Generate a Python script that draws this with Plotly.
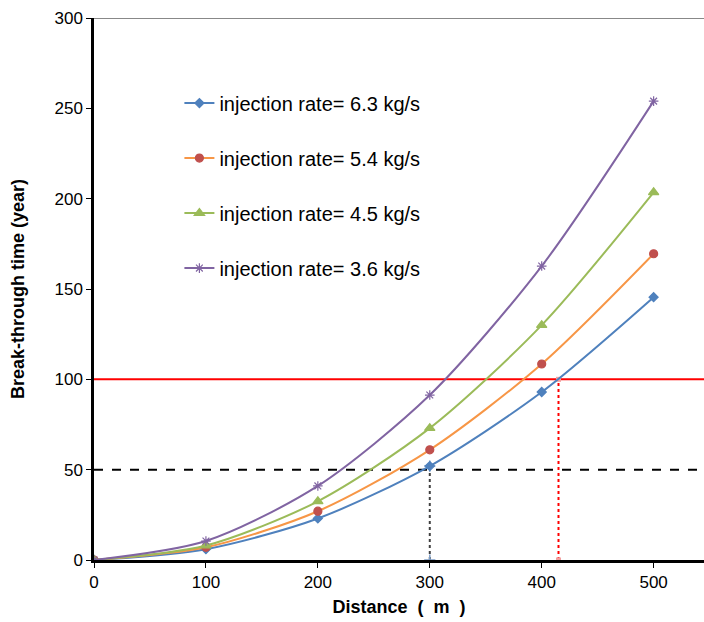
import plotly.graph_objects as go

distance = [0, 100, 200, 300, 400, 500]
labels = ["injection rate= 6.3 kg/s", "injection rate= 5.4 kg/s",
          "injection rate= 4.5 kg/s", "injection rate= 3.6 kg/s"]
t_63 = [0, 6, 23, 52, 93, 145.5]
t_54 = [0, 7, 27, 61, 108.5, 169.5]
t_45 = [0, 8, 32.5, 73, 130, 203.5]
t_36 = [0, 10.5, 41, 91.3, 162.7, 254]

limit_100 = 100
limit_50 = 50
x_at_50 = 300
x_at_100 = 415
y_at_50 = 52

series = [
    (labels[0], t_63, "#4F81BD", "#4F81BD", "diamond", 7),
    (labels[1], t_54, "#F79646", "#C0504D", "circle", 8),
    (labels[2], t_45, "#9BBB59", "#9BBB59", "triangle-up", 9),
    (labels[3], t_36, "#8064A2", "#8064A2", "asterisk-open", 8),
]

fig = go.Figure()

fig.add_trace(go.Scatter(x=[0, 545], y=[limit_100, limit_100], mode="lines",
                         line=dict(color="#FF0000", width=2), showlegend=False, hoverinfo="skip"))
fig.add_trace(go.Scatter(x=[0, 545], y=[limit_50, limit_50], mode="lines",
                         line=dict(color="black", width=2, dash="dash"), showlegend=False, hoverinfo="skip"))
fig.add_trace(go.Scatter(x=[x_at_50, x_at_50], y=[0, y_at_50], mode="lines+markers",
                         line=dict(color="#404040", width=2, dash="dot"),
                         marker=dict(symbol="cross-thin-open", size=8, color="#7F9FC8", line=dict(width=1.5, color="#7F9FC8")),
                         showlegend=False, hoverinfo="skip"))
fig.add_trace(go.Scatter(x=[x_at_100, x_at_100], y=[0, limit_100], mode="lines+markers",
                         line=dict(color="#FF0000", width=2, dash="dot"),
                         marker=dict(symbol="square", size=5, color="#F2A0A0"),
                         showlegend=False, hoverinfo="skip"))

for i, (name, ys, lc, mc, sym, ms) in enumerate(series):
    fig.add_trace(go.Scatter(
        x=distance, y=ys, name=name, mode="lines+markers",
        line=dict(color=lc, width=2, shape="spline", smoothing=0.8),
        marker=dict(symbol=sym, size=ms, color=mc, line=dict(color=mc, width=1.2)),
        legendgroup=f"g{i}",
    ))

fig.add_shape(type="line", xref="paper", yref="y", x0=0, x1=1, y0=300, y1=300,
              line=dict(color="#888888", width=2))

fig.update_layout(
    width=704, height=622,
    margin=dict(l=94, r=0, t=18, b=62, autoexpand=False),
    paper_bgcolor="white", plot_bgcolor="white",
    font=dict(family="Liberation Sans, Arial, sans-serif", size=17, color="black"),
    showlegend=True,
    legend=dict(x=0.14, y=0.879, xanchor="left", yanchor="top",
                font=dict(size=20, color="black"), bgcolor="rgba(0,0,0,0)",
                traceorder="grouped", tracegroupgap=26, itemwidth=30),
    xaxis=dict(range=[0, 545], tickvals=[0, 100, 200, 300, 400, 500], automargin=False,
               showgrid=False, zeroline=False, showline=True, linecolor="black", linewidth=2.5,
               ticks="outside", ticklen=5, tickcolor="black", tickwidth=1,
               tickfont=dict(size=17),
               title=dict(text="<b>Distance  (  m  )</b>", font=dict(size=18), standoff=10)),
    yaxis=dict(range=[0, 300], tickvals=[0, 50, 100, 150, 200, 250, 300], automargin=False,
               showgrid=False, zeroline=False, showline=True, linecolor="black", linewidth=2.5,
               ticks="outside", ticklen=5, tickcolor="black", tickwidth=1,
               tickfont=dict(size=17),
               title=dict(text="<b>Break-through time (year)</b>", font=dict(size=18), standoff=26)),
)

fig.write_html("out.html", config={"displayModeBar": False},
               post_script="document.body.style.margin='0';document.body.style.overflow='hidden';")
